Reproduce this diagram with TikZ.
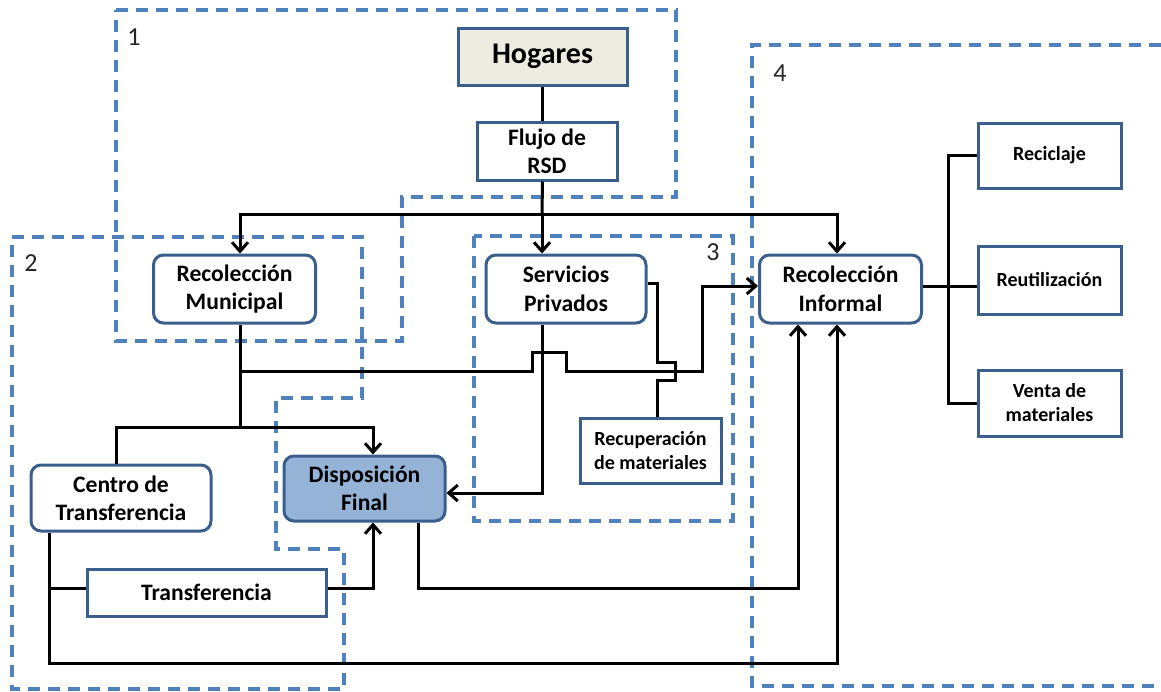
\documentclass[tikz,border=0pt]{standalone}
\usepackage{fontspec}
\setmainfont{Carlito}
\usetikzlibrary{arrows.meta, positioning, calc}
\definecolor{rsdblue}{RGB}{79,129,189}
\definecolor{rsdedge}{RGB}{58,95,140}
\definecolor{rsdbeige}{RGB}{238,236,225}
\definecolor{rsdfill}{RGB}{149,179,215}

\begin{document}
\begin{tikzpicture}[x=0.5pt, y=-0.5pt,
  sbox/.style={rectangle, draw=rsdedge, line width=1.5pt, fill=white, inner sep=0pt, align=center, font=\fontsize{11.8}{14.2}\selectfont\bfseries},
  rbox/.style={sbox, rounded corners=5pt, minimum width=81pt, minimum height=34pt},
  obox/.style={sbox, minimum width=71.5pt, font=\fontsize{10}{12}\selectfont\bfseries},
  zone/.style={draw=rsdblue, line width=1.6pt, dash pattern=on 6pt off 4pt},
  num/.style={font=\fontsize{13}{15}\selectfont, text=black!85},
  ln/.style={line width=1.5pt, black},
  arr/.style={ln, -{Straight Barb[length=4.5pt,width=8pt]}}
]
\useasboundingbox (0,0) rectangle (1161,691);
% zones
\draw[zone] (116,10) -- (676,10) -- (676,197) -- (402,197) -- (402,341) -- (116,341) -- cycle;
\draw[zone] (12,237) -- (362,237) -- (362,398) -- (276,398) -- (276,549) -- (344,549) -- (344,689) -- (12,689) -- cycle;
\draw[zone] (474,236) rectangle (733,521);
\draw[zone] (1161,45) -- (752,45) -- (752,686) -- (1161,686);
\node[num] (n1) at (134,37) {1};
\node[num] (n2) at (31,263) {2};
\node[num] (n3) at (713,252) {3};
\node[num] (n4) at (780,73) {4};
% boxes
\node[sbox, fill=rsdbeige, minimum width=84.5pt, minimum height=28.5pt, font=\fontsize{15}{17}\selectfont\bfseries] (hog) at (542.5,56.5) {Hogares};
\node[sbox, minimum width=70pt, minimum height=29pt] (flujo) at (547,151) {Flujo de\\RSD};
\node[rbox] (rmun) at (234.5,289) {Recolección\\Municipal};
\node[rbox, minimum width=80pt] (spriv) at (566,289) {Servicios\\Privados};
\node[rbox] (rinf) at (840.5,289) {Recolección\\Informal};
\node[obox, minimum height=32.5pt] (recic) at (1049.5,155.5) {Reciclaje};
\node[obox, minimum height=34pt] (reut) at (1049.5,280) {Reutilización};
\node[obox, minimum height=33pt] (venta) at (1049.5,403) {Venta de\\materiales};
\node[obox, minimum width=70.5pt, minimum height=32.5pt] (recup) at (650.5,450.5) {Recuperación\\de materiales};
\node[rbox, minimum width=90pt, minimum height=33pt] (centro) at (121,498) {Centro de\\Transferencia};
\node[rbox, fill=rsdfill, minimum width=80.5pt, minimum height=32.5pt] (disp) at (364.5,488.5) {Disposición\\Final};
\node[sbox, minimum width=119.5pt, minimum height=23.5pt] (transf) at (206.5,592.5) {Transferencia};
% junctions
\coordinate (fork) at (542,214);
\coordinate (mjoin) at (240,427);
\coordinate (mhop) at (240,371);
\coordinate (cbot) at (49,663);
\coordinate (dbot) at (418,588);
% connectors
\draw[ln] (hog.south) -- (hog.south |- flujo.north);
\draw[ln] (hog.south |- flujo.south) -- (fork);
\draw[arr] (fork) -| ([xshift=2.75pt]rmun.north);
\draw[arr] (fork) -- (fork |- spriv.north);
\draw[arr] (fork) -| ([xshift=-1.75pt]rinf.north);
\draw[ln] (rmun.south -| mjoin) -- (mjoin);
\draw[ln] (mjoin) -| ([xshift=-2.5pt]centro.north);
\draw[arr] (mjoin) -| ([xshift=4.25pt]disp.north);
\draw[arr] (mhop) -- (532,371) -- (532,352) -- (566,352) -- (566,371) -- (702,371) |- ([yshift=1.5pt]rinf.west);
\draw[ln] ([yshift=3pt]spriv.east) -| (657,362) -- (675,362) -- (675,380) -- (657,380) -- ([xshift=3.25pt]recup.north);
\draw[arr] (fork |- spriv.south) |- ([yshift=-2.25pt]disp.east);
\draw[arr] ([xshift=-36pt]centro.south) -- (cbot) -| ([xshift=-1.75pt]rinf.south);
\draw[ln] (cbot |- dbot) -- (transf.west |- dbot);
\draw[arr] (transf.east |- dbot) -| ([xshift=4.25pt]disp.south);
\draw[arr] ([xshift=26.75pt]disp.south) -- (dbot) -| ([xshift=-21.25pt]rinf.south);
\draw[ln] ([yshift=1.5pt]rinf.east) -- ([yshift=1.5pt]rinf.east -| reut.west);
\draw[ln] (recic.west) -- ++(-14pt,0) |- (venta.west);
\end{tikzpicture}
\end{document}
